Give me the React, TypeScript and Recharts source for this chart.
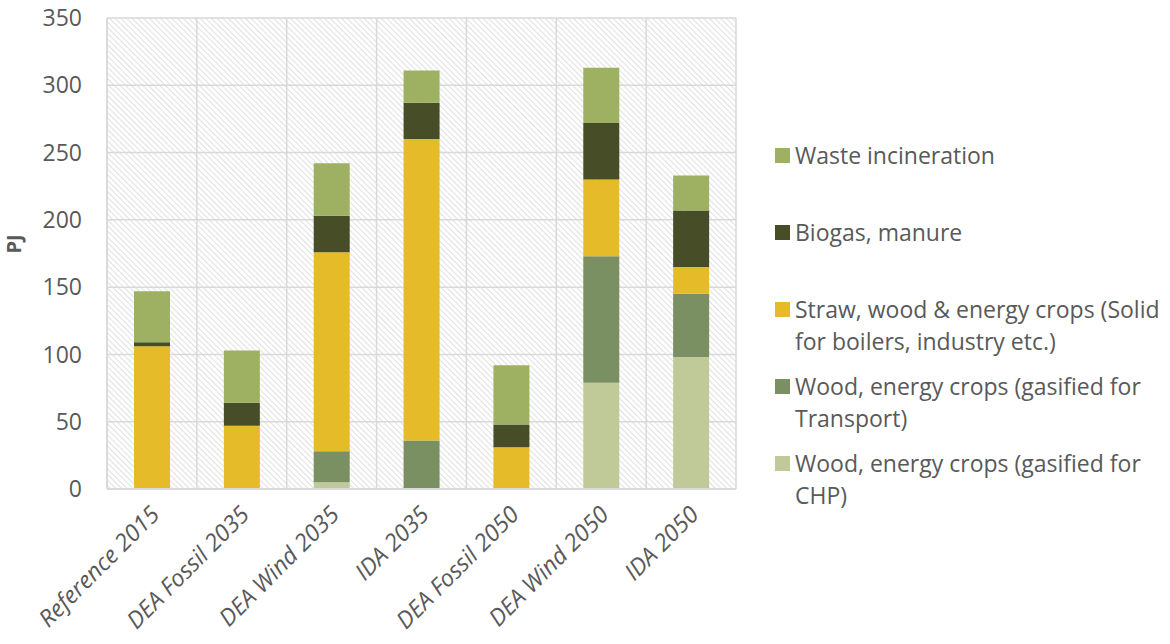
import React from "react";
import { BarChart, Bar, XAxis, YAxis, CartesianGrid, Label } from "recharts";

const scenarios = ["Reference 2015", "DEA Fossil 2035", "DEA Wind 2035", "IDA 2035", "DEA Fossil 2050", "DEA Wind 2050", "IDA 2050"];
const gasifiedChp = [0, 0, 5, 0, 0, 79, 98];
const gasifiedTransport = [0, 0, 23, 36, 0, 94, 47];
const strawWoodSolid = [106, 47, 148, 224, 31, 57, 20];
const biogasManure = [3, 17, 27, 27, 17, 42, 42];
const wasteIncineration = [38, 39, 39, 24, 44, 41, 26];
const yTicks = [0, 50, 100, 150, 200, 250, 300, 350];

const series = [
  { key: "chp", name: "Wood, energy crops (gasified for CHP)", color: "#BFCA98", values: gasifiedChp },
  { key: "transport", name: "Wood, energy crops (gasified for Transport)", color: "#7A8F62", values: gasifiedTransport },
  { key: "straw", name: "Straw, wood & energy crops (Solid for boilers, industry etc.)", color: "#E6BB29", values: strawWoodSolid },
  { key: "biogas", name: "Biogas, manure", color: "#464D27", values: biogasManure },
  { key: "waste", name: "Waste incineration", color: "#9EB062", values: wasteIncineration },
];

const data = scenarios.map((s, i) => {
  const row: Record<string, string | number> = { scenario: s };
  series.forEach((ser) => { row[ser.key] = ser.values[i]; });
  return row;
});

const textColor = "#595959";
const gridColor = "#D9D9D9";
const font = "'Open Sans', sans-serif";

function XTick(props: any) {
  const { x, y, payload } = props;
  const ax = x + 9;
  const ay = y + 19;
  return (
    <text x={ax} y={ay} transform={`rotate(-45 ${ax} ${ay})`} textAnchor="end" fill={textColor} fontSize={23.5} fontStyle="italic" fontFamily={font}>
      {payload.value}
    </text>
  );
}

function LegendBox() {
  const items = [...series].reverse();
  return (
    <div style={{ position: "absolute", left: 775, top: 139, fontFamily: font, fontSize: 23, color: textColor, lineHeight: "32px" }}>
      {items.map((s) => (
        <div key={s.key} style={{ height: 77, display: "flex", alignItems: "flex-start" }}>
          <span style={{ width: 15, height: 15, background: s.color, marginTop: 9, marginRight: 5, flex: "none" }} />
          <span style={{ width: 372 }}>{s.name}</span>
        </div>
      ))}
    </div>
  );
}

export default function App() {
  return (
    <div style={{ position: "relative", width: 1170, height: 644, background: "#fff" }}>
      <style>{`body{margin:0}`}</style>
      <BarChart width={1170} height={644} data={data} margin={{ top: 18, right: 434, bottom: 0, left: 47 }}>
        <defs>
          <pattern id="hatch" patternUnits="userSpaceOnUse" width={4} height={4} patternTransform="rotate(-45)">
            <rect width={4} height={4} fill="#FFFFFF" />
            <line x1={0} y1={0} x2={0} y2={4} stroke="#E0E0E0" strokeWidth={2} />
          </pattern>
        </defs>
        <CartesianGrid
          fill="url(#hatch)"
          stroke={gridColor}
          strokeWidth={1.5}
          verticalCoordinatesGenerator={({ offset }: any) =>
            scenarios.map((_, i) => offset.left + (i * offset.width) / scenarios.length).concat([offset.left + offset.width])
          }
        />
        <XAxis dataKey="scenario" height={155} interval={0} axisLine={{ stroke: gridColor, strokeWidth: 2 }} tickLine={false} tick={<XTick />} />
        <YAxis width={60} domain={[0, 350]} ticks={yTicks} interval={0} axisLine={{ stroke: gridColor, strokeWidth: 1.5 }} tickLine={false} tick={{ fill: textColor, fontSize: 23, fontFamily: font }} tickMargin={19}>
          <Label value="PJ" angle={-90} position="insideLeft" offset={-33} style={{ fill: textColor, fontSize: 20, fontWeight: 700, fontFamily: font }} />
        </YAxis>
        {series.map((s) => (
          <Bar key={s.key} dataKey={s.key} name={s.name} stackId="a" fill={s.color} barSize={36} isAnimationActive={false} />
        ))}
      </BarChart>
      <LegendBox />
    </div>
  );
}
